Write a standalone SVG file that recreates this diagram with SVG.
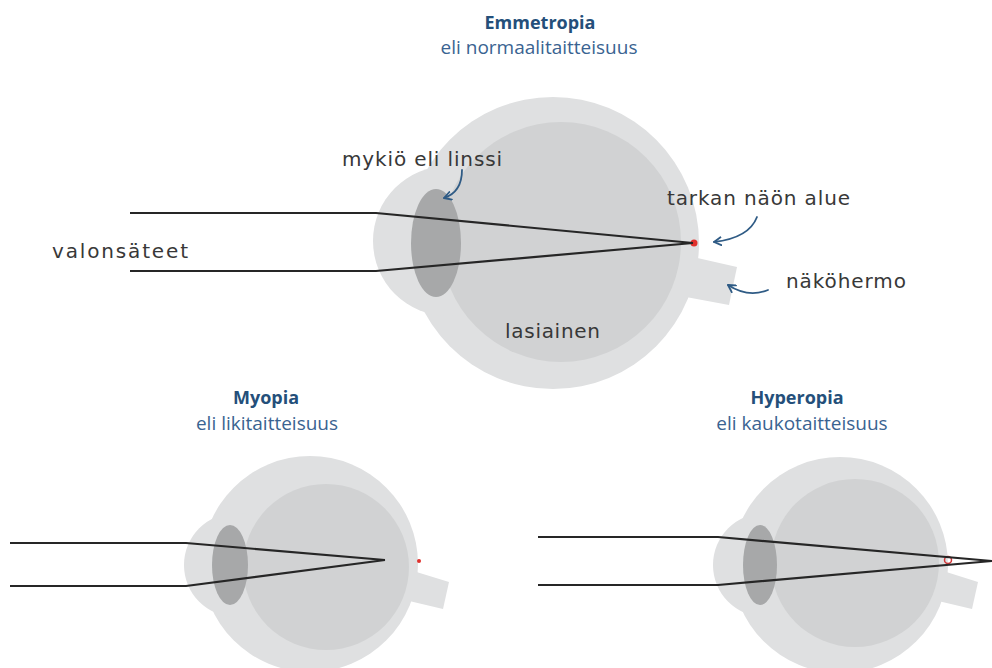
<svg xmlns="http://www.w3.org/2000/svg" width="992" height="668" viewBox="0 0 992 668">
  <defs>
    <marker id="head" viewBox="0 0 10 10" refX="8" refY="5" markerWidth="10" markerHeight="10" markerUnits="userSpaceOnUse" orient="auto">
      <path d="M1,1 L8,5 L1,9" fill="none" stroke="#2f5b85" stroke-width="1.8" stroke-linecap="round" stroke-linejoin="round"/>
    </marker>
  </defs>
  <style>
    .sclera { fill: #dfe0e1; }
    .vitreous { fill: #d1d2d3; }
    .lens { fill: #a7a8a9; }
    .ray { fill: none; stroke: #262626; stroke-width: 2.2; stroke-linejoin: round; }
    .focus { fill: #e0302c; }
    .title { font-family: "Open Sans", "Noto Sans", sans-serif; font-weight: bold; font-size: 18px; fill: #244f7a; text-anchor: middle; }
    .sub { font-family: "Open Sans", "Noto Sans", sans-serif; font-size: 19px; fill: #3a6391; text-anchor: middle; }
    .label { font-family: "DejaVu Sans", "Noto Sans", sans-serif; font-size: 20px; fill: #383838; }
    .pointer { fill: none; stroke: #2f5b85; stroke-width: 1.8; stroke-linecap: round; marker-end: url(#head); }
  </style>

  <rect width="992" height="668" fill="#ffffff"/>

  <!-- Emmetropia: normal eye -->
  <g id="emmetropia-eye">
    <polygon class="sclera" points="693,257 737,267 729,305 686,297"/>
    <circle class="sclera" cx="553" cy="243" r="146"/>
    <circle class="sclera" cx="448" cy="241" r="75"/>
    <circle class="vitreous" cx="561" cy="242" r="120"/>
    <ellipse class="lens" cx="436" cy="243" rx="25" ry="54"/>
    <circle class="focus" cx="694" cy="243" r="3.5"/>
  </g>

  <!-- Myopia: nearsighted eye -->
  <g id="myopia-eye">
    <polygon class="sclera" points="410,570 449,582 443,609 405,600"/>
    <circle class="sclera" cx="310" cy="564" r="108"/>
    <circle class="sclera" cx="236" cy="565" r="52"/>
    <circle class="vitreous" cx="326" cy="567" r="83"/>
    <ellipse class="lens" cx="230" cy="565" rx="18" ry="40"/>
    <circle class="focus" cx="419" cy="561" r="2"/>
  </g>

  <!-- Hyperopia: farsighted eye -->
  <g id="hyperopia-eye">
    <polygon class="sclera" points="940,570 978,582 972,609 934,600"/>
    <circle class="sclera" cx="840" cy="565" r="108"/>
    <circle class="sclera" cx="765" cy="565" r="52"/>
    <circle class="vitreous" cx="855" cy="563" r="84"/>
    <ellipse class="lens" cx="760" cy="565" rx="17" ry="40"/>
    <circle cx="948" cy="560" r="3.5" fill="none" stroke="#d2383a" stroke-width="1.5"/>
  </g>

  <!-- light rays and label pointers -->
  <g id="connectors">
    <polyline class="ray" points="130,213 376,213 693,243"/>
    <polyline class="ray" points="130,271 376,271 693,243"/>

    <polyline class="ray" points="10,543 186,543 385,560"/>
    <polyline class="ray" points="10,586 186,586 385,560"/>

    <polyline class="ray" points="538,537 718,537 992,561"/>
    <polyline class="ray" points="538,585 718,585 992,561"/>

    <path class="pointer" d="M462,170 Q462,192 444,198"/>
    <path class="pointer" d="M757,217 Q749,238 714,242"/>
    <path class="pointer" d="M768,290 Q748,298 728,285"/>
  </g>

  <g id="labels">
    <text class="title" x="540" y="29">Emmetropia</text>
    <text class="sub" x="539" y="54">eli normaalitaitteisuus</text>
    <text class="title" x="266" y="404">Myopia</text>
    <text class="sub" x="267" y="430">eli likitaitteisuus</text>
    <text class="title" x="797" y="404">Hyperopia</text>
    <text class="sub" x="802" y="430">eli kaukotaitteisuus</text>

    <text class="label" x="342" y="166" textLength="160">mykiö eli linssi</text>
    <text class="label" x="52" y="258" textLength="136">valonsäteet</text>
    <text class="label" x="667" y="205" textLength="183">tarkan näön alue</text>
    <text class="label" x="786" y="288" textLength="120">näköhermo</text>
    <text class="label" x="505" y="338" textLength="95">lasiainen</text>
  </g>
</svg>
